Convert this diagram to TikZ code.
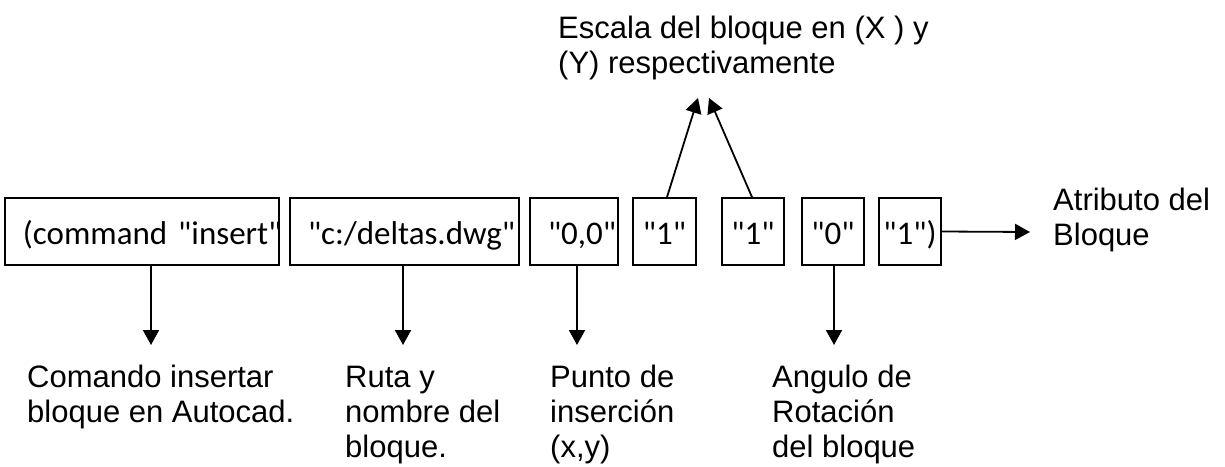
\documentclass[tikz,border=0pt]{standalone}
\usepackage{fontspec}
\setmainfont{Liberation Sans}
\newfontfamily\calfont{Carlito}
\usetikzlibrary{arrows.meta}
\hbadness=10000 \hfuzz=100pt
\tikzset{
  codebox/.style={draw, line width=1.8pt, inner sep=0pt, minimum height=67pt,
    font=\calfont\fontsize{33}{38}\selectfont, text height=28pt, text depth=3pt},
  widebox/.style={codebox, inner xsep=18pt, align=left},
  lbl/.style={anchor=base west, inner sep=0pt, align=left,
    font=\fontsize{31}{35}\selectfont},
  arr/.style={line width=1.8pt, -{Triangle[width=16pt,length=15pt]}}
}
\begin{document}
\begin{tikzpicture}[x=1pt,y=-1pt]
\useasboundingbox (0,0) rectangle (1225,466);
\node[widebox, text width=238pt] (b1) at (142,231.5) {\mbox{(command "insert"}};
\node[widebox, text width=193pt] (b2) at (404.5,231.5) {\mbox{"c:/deltas.dwg"}};
\node[widebox, text width=52pt] (b3) at (574,231.5) {\mbox{"0,0"}};
\node[codebox, minimum width=63pt] (b4) at (664.5,231.5) {"1"};
\node[codebox, minimum width=62pt] (b5) at (753,231.5) {"1"};
\node[codebox, minimum width=62pt] (b6) at (833,231.5) {"0"};
\node[codebox, minimum width=62pt] (b7) at (910,231.5) {"1")};

\node[lbl] (l1) at (27,422) {Comando insertar\\bloque en Autocad.};
\node[lbl] (l2) at (345,457) {Ruta y\\nombre del\\bloque.};
\node[lbl] (l3) at (550,457) {Punto de\\inserción\\(x,y)};
\node[lbl] (l4) at (772,457) {Angulo de\\Rotación\\del bloque};
\node[lbl] (l5) at (1053,245) {Atributo del\\Bloque};
\node[lbl] (l6) at (558,73) {Escala del bloque en (X ) y\\(Y) respectivamente};

\coordinate (t1) at (151,345);
\coordinate (t2) at (403,345);
\coordinate (t3) at (577,345);
\coordinate (t6) at (834,345);
\coordinate (s4) at (667,198);
\coordinate (s5) at (752,198);
\coordinate (u4) at (698,98);
\coordinate (u5) at (709,98);
\coordinate (r7) at (1030,232);

\draw[arr] (b1.south -| t1) -- (t1);
\draw[arr] (b2.south -| t2) -- (t2);
\draw[arr] (b3.south -| t3) -- (t3);
\draw[arr] (b6.south -| t6) -- (t6);
\draw[arr] (b4.north -| s4) -- (u4);
\draw[arr] (b5.north -| s5) -- (u5);
\draw[arr] (b7.east) -- (r7);
\end{tikzpicture}
\end{document}
